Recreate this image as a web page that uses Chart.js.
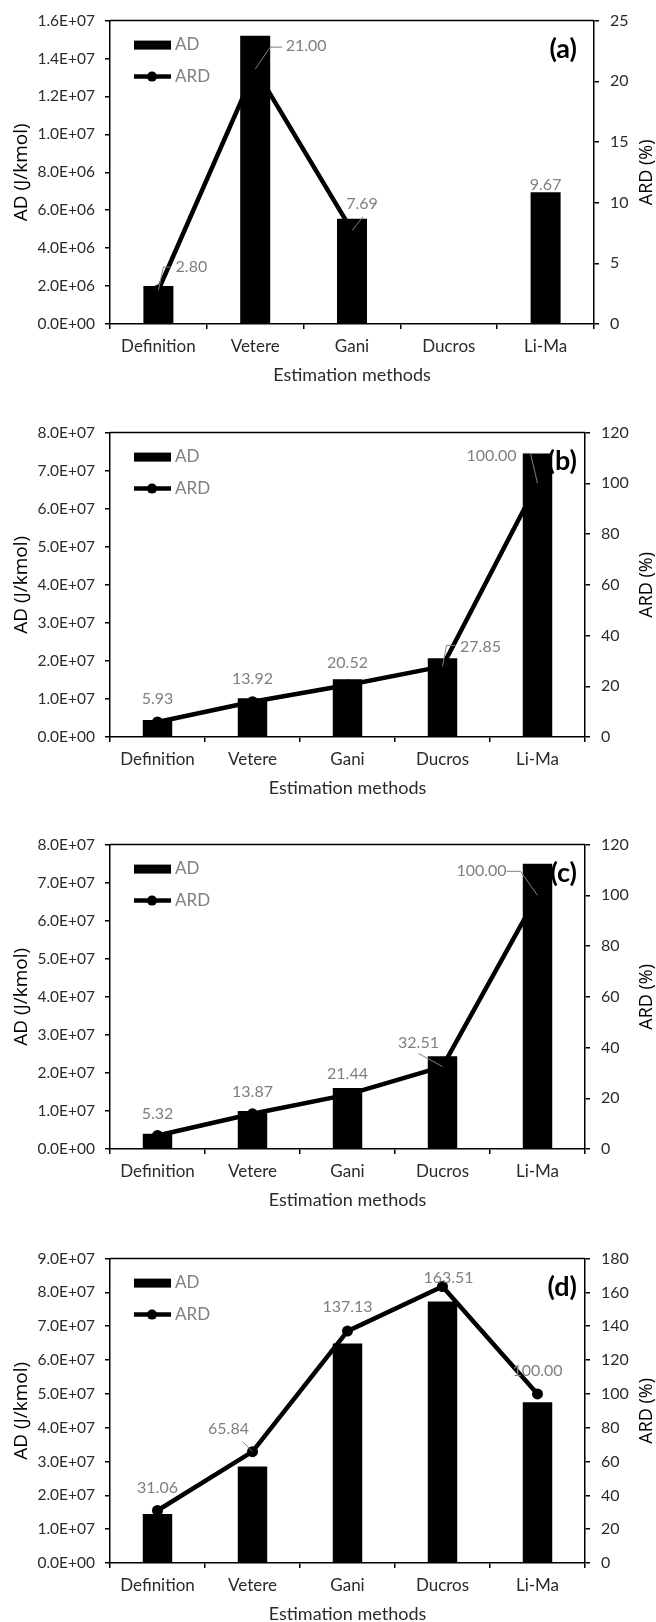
<!DOCTYPE html>
<html>
<head>
<meta charset="utf-8">
<script src="https://cdn.jsdelivr.net/npm/chart.js@4.4.1/dist/chart.umd.min.js"></script>
<style>
  html, body { margin: 0; padding: 0; background: #fff; overflow: hidden; }
  body { width: 656px; height: 1622px; position: relative; }
  canvas { position: absolute; left: 0; }
</style>
</head>
<body>
<canvas id="chartA"></canvas>
<canvas id="chartB"></canvas>
<canvas id="chartC"></canvas>
<canvas id="chartD"></canvas>
<script>
const categories = ["Definition", "Vetere", "Gani", "Ducros", "Li-Ma"];

// AD (J/kmol), bars on left axis
const adA = [2.0e6, 1.52e7, 5.55e6, null, 6.95e6];
const adB = [4.5e6, 1.02e7, 1.52e7, 2.07e7, 7.45e7];
const adC = [4.0e6, 1.0e7, 1.6e7, 2.44e7, 7.5e7];
const adD = [1.45e7, 2.85e7, 6.49e7, 7.73e7, 4.75e7];

// ARD (%), line on right axis
const ardA = [2.80, 21.00, 7.69, null, 9.67];
const ardB = [5.93, 13.92, 20.52, 27.85, 100.00];
const ardC = [5.32, 13.87, 21.44, 32.51, 100.00];
const ardD = [31.06, 65.84, 137.13, 163.51, 100.00];

// axis ranges [max, step]
const adAxisA = [1.6e7, 2e6];
const adAxisB = [8e7, 1e7];
const adAxisC = [8e7, 1e7];
const adAxisD = [9e7, 1e7];
const ardAxisA = [25, 5];
const ardAxisB = [120, 20];
const ardAxisC = [120, 20];
const ardAxisD = [180, 20];

const W = 656;
const PAD_TOP = 20;
const X_AXIS_H = 62;
const GREY = "#7f7f7f";
const INK = "#2b2b2b";

Chart.defaults.font.family = "Lato";

function sci(v) {
  if (v === 0) return "0.0E+00";
  const e = Math.floor(Math.log10(Math.abs(v)) + 1e-9);
  const m = v / Math.pow(10, e);
  return m.toFixed(1) + "E+" + String(e).padStart(2, "0");
}

// label offsets from the point, and leader polylines (relative to point)
const panels = [
  { id: "chartA", tag: "(a)", ad: adA, ard: ardA, adAxis: adAxisA, ardAxis: ardAxisA,
    plotTop: 20, plotBottom: 324, plotRight: 594,
    offsets: [[33, -23], [51, -23], [10, -27], [0, 0], [0, -22]],
    leaders: [[[5, -23], [12, -23]], [[15, -22], [27, -22]], [[11, -14]], null, null] },
  { id: "chartB", tag: "(b)", ad: adB, ard: ardB, adAxis: adAxisB, ardAxis: ardAxisB,
    plotTop: 432, plotBottom: 737, plotRight: 585,
    offsets: [[0, -23], [0, -23], [0, -22], [38, -20], [-46, -27]],
    leaders: [null, null, null, [[4, -21], [13, -21]], [[-7, -30], [-14, -30]]] },
  { id: "chartC", tag: "(c)", ad: adC, ard: ardC, adAxis: adAxisC, ardAxis: ardAxisC,
    plotTop: 844, plotBottom: 1149, plotRight: 585,
    offsets: [[0, -22], [0, -22], [0, -21], [-24, -24], [-56, -24]],
    leaders: [null, null, null, [[-24, -13]], [[-17, -24], [-31, -24]]] },
  { id: "chartD", tag: "(d)", ad: adD, ard: ardD, adAxis: adAxisD, ardAxis: ardAxisD,
    plotTop: 1258, plotBottom: 1563, plotRight: 585,
    offsets: [[0, -23], [-24, -23], [0, -24], [6, -9], [0, -23]],
    leaders: [null, [[-10, -10]], null, null, null] }
];

function makeDecor(p) {
  return {
    id: "decor",
    beforeDatasetsDraw(chart) {
      const { ctx, chartArea } = chart;
      ctx.save();
      ctx.font = "bold 27px Lato";
      ctx.fillStyle = "#000";
      ctx.textAlign = "right";
      ctx.textBaseline = "middle";
      ctx.fillText(p.tag, 577, chartArea.top + 29);
      ctx.restore();
    },
    afterDatasetsDraw(chart) {
      const { ctx } = chart;
      const meta = chart.getDatasetMeta(1);
      ctx.save();
      ctx.font = "16px Lato";
      ctx.fillStyle = GREY;
      ctx.strokeStyle = GREY;
      ctx.lineWidth = 1;
      ctx.textAlign = "center";
      ctx.textBaseline = "middle";
      p.ard.forEach((v, i) => {
        if (v === null) return;
        const pt = meta.data[i];
        const lead = p.leaders[i];
        if (lead) {
          ctx.beginPath();
          ctx.moveTo(pt.x, pt.y);
          lead.forEach(([dx, dy]) => ctx.lineTo(pt.x + dx, pt.y + dy));
          ctx.stroke();
        }
        const [ox, oy] = p.offsets[i];
        ctx.fillText(v.toFixed(2), pt.x + ox, pt.y + oy);
      });
      ctx.restore();
    },
    afterDraw(chart) {
      const { ctx, chartArea } = chart;
      const { left, right, top, bottom } = chartArea;
      ctx.save();
      // top border of plot box
      ctx.strokeStyle = "#000";
      ctx.lineWidth = 1.5;
      ctx.beginPath();
      ctx.moveTo(left, top);
      ctx.lineTo(right, top);
      ctx.stroke();

      // legend
      const lx = left + 24;
      ctx.fillStyle = "#000";
      ctx.fillRect(lx, top + 20, 37, 9);
      ctx.lineWidth = 4.5;
      ctx.beginPath();
      ctx.moveTo(lx, top + 56);
      ctx.lineTo(lx + 37, top + 56);
      ctx.stroke();
      ctx.beginPath();
      ctx.arc(lx + 18, top + 56, 5, 0, Math.PI * 2);
      ctx.fill();
      ctx.font = "17px Lato";
      ctx.fillStyle = GREY;
      ctx.textAlign = "left";
      ctx.textBaseline = "middle";
      ctx.fillText("AD", lx + 41, top + 24);
      ctx.fillText("ARD", lx + 41, top + 56);

      // right axis title, reading upwards
      ctx.translate(647, (top + bottom) / 2);
      ctx.rotate(-Math.PI / 2);
      ctx.font = "18px 'Open Sans'";
      ctx.fillStyle = "#000";
      ctx.textAlign = "center";
      ctx.textBaseline = "middle";
      ctx.fillText("ARD (%)", 0, 0);
      ctx.restore();
    }
  };
}

panels.forEach(p => {
  const canvas = document.getElementById(p.id);
  const h = PAD_TOP + (p.plotBottom - p.plotTop) + X_AXIS_H + 2;
  canvas.width = W;
  canvas.height = h;
  canvas.style.top = (p.plotTop - PAD_TOP) + "px";

  new Chart(canvas, {
    type: "bar",
    data: {
      labels: categories,
      datasets: [
        {
          label: "AD",
          data: p.ad,
          yAxisID: "y",
          backgroundColor: "#000",
          barPercentage: 0.31,
          categoryPercentage: 1
        },
        {
          type: "line",
          label: "ARD",
          data: p.ard,
          yAxisID: "y1",
          borderColor: "#000",
          borderWidth: 4.5,
          backgroundColor: "#000",
          pointRadius: 5.5,
          pointBorderWidth: 0,
          pointBackgroundColor: "#000",
          spanGaps: false,
          tension: 0
        }
      ]
    },
    options: {
      responsive: false,
      animation: false,
      events: [],
      layout: { padding: { top: PAD_TOP, bottom: 2, left: 0, right: 0 } },
      plugins: {
        legend: { display: false },
        tooltip: { enabled: false }
      },
      scales: {
        x: {
          afterFit(scale) { scale.height = X_AXIS_H; },
          grid: { display: true, drawOnChartArea: false, tickLength: 5, color: "#000", lineWidth: 1.5 },
          border: { display: true, color: "#000", width: 1.5 },
          ticks: { color: INK, font: { size: 17 }, padding: 7, maxRotation: 0 },
          title: {
            display: true,
            text: "Estimation methods",
            color: INK,
            font: { size: 18 },
            padding: { top: 0, bottom: 0 }
          }
        },
        y: {
          position: "left",
          min: 0,
          max: p.adAxis[0],
          afterFit(scale) { scale.width = 110; },
          grid: { display: true, drawOnChartArea: false, tickLength: 5, color: "#000", lineWidth: 1.5 },
          border: { display: true, color: "#000", width: 1.5 },
          ticks: {
            stepSize: p.adAxis[1],
            color: INK,
            font: { size: 15.5 },
            padding: 10,
            callback: v => sci(v)
          },
          title: {
            display: true,
            text: "AD (J/kmol)",
            color: "#000",
            font: { family: "Open Sans", size: 19 },
            padding: { top: 10, bottom: 0 }
          }
        },
        y1: {
          position: "right",
          min: 0,
          max: p.ardAxis[0],
          afterFit(scale) { scale.width = W - p.plotRight; },
          grid: { display: true, drawOnChartArea: false, tickLength: 5, color: "#000", lineWidth: 1.5 },
          border: { display: true, color: "#000", width: 1.5 },
          ticks: { stepSize: p.ardAxis[1], color: INK, font: { size: 16 }, padding: 11 }
        }
      }
    },
    plugins: [makeDecor(p)]
  });
});
</script>
</body>
</html>
